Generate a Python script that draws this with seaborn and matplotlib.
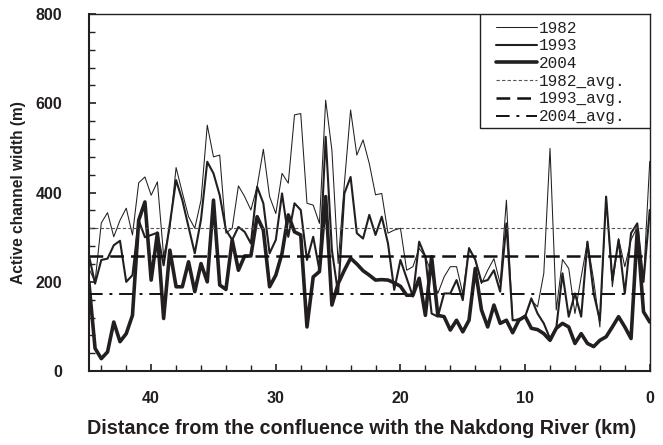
import matplotlib
matplotlib.use("Agg")
import matplotlib.pyplot as plt
from matplotlib.patches import Rectangle
from matplotlib.ticker import MultipleLocator
import seaborn as sns
import pandas as pd

distance_km = [45, 44.5, 44, 43.5, 43, 42.5, 42, 41.5, 41, 40.5, 40, 39.5, 39, 38.5, 38, 37.5,
               37, 36.5, 36, 35.5, 35, 34.5, 34, 33.5, 33, 32.5, 32, 31.5, 31, 30.5, 30,
               29.5, 29, 28.5, 28, 27.5, 27, 26.5, 26, 25.5, 25, 24.5, 24, 23.5, 23, 22.5,
               22, 21.5, 21, 20.5, 20, 19.5, 19, 18.5, 18, 17.5, 17, 16.5, 16, 15.5, 15,
               14.5, 14, 13.5, 13, 12.5, 12, 11.5, 11, 10.5, 10, 9.5, 9, 8.5, 8, 7.5,
               7, 6.5, 6, 5.5, 5, 4.5, 4, 3.5, 3, 2.5, 2, 1.5, 1, 0.5, 0]

width_1982 = [230, 200, 332, 355, 301, 338, 365, 305, 422, 435, 394, 424, 258, 320, 456, 400,
              346, 320, 383, 551, 480, 484, 309, 320, 415, 391, 361, 413, 497, 391, 353,
              443, 421, 574, 577, 376, 372, 331, 607, 495, 241, 420, 585, 484, 518, 465,
              395, 398, 309, 316, 320, 226, 234, 275, 256, 219, 174, 211, 234, 234, 174,
              277, 249, 196, 226, 252, 196, 383, 114, 118, 122, 159, 144, 219, 499, 137,
              250, 230, 129, 211, 290, 204, 99, 391, 189, 297, 234, 294, 323, 204, 470]

width_1993 = [260, 196, 249, 252, 282, 292, 200, 215, 338, 300, 305, 310, 237, 330, 428, 383,
              323, 264, 340, 469, 443, 394, 316, 294, 323, 312, 286, 413, 376, 264, 294,
              398, 301, 376, 361, 249, 301, 226, 525, 271, 174, 398, 435, 309, 297, 350,
              305, 346, 286, 182, 249, 208, 167, 290, 256, 129, 122, 174, 174, 204, 159,
              275, 250, 200, 204, 226, 178, 331, 114, 114, 122, 163, 129, 107, 73, 96,
              219, 122, 174, 122, 290, 174, 114, 391, 204, 294, 174, 309, 331, 200, 361]

width_2004 = [200, 51, 28, 43, 110, 66, 84, 125, 338, 379, 204, 309, 118, 271, 189, 189,
              245, 178, 241, 200, 383, 193, 183, 294, 226, 258, 258, 346, 316, 189, 215,
              264, 350, 312, 305, 99, 211, 223, 391, 148, 196, 226, 253, 240, 225, 215,
              204, 205, 204, 198, 190, 170, 170, 208, 125, 256, 125, 122, 92, 114, 88,
              114, 230, 137, 99, 148, 107, 114, 86, 114, 123, 96, 93, 84, 69, 96,
              107, 99, 62, 84, 62, 55, 69, 77, 99, 122, 99, 73, 316, 133, 110]

avg_1982 = 321
avg_1993 = 258
avg_2004 = 172

series_labels = ["1982", "1993", "2004"]
avg_labels = ["1982_avg.", "1993_avg.", "2004_avg."]

df = pd.DataFrame({
    "km": distance_km * 3,
    "width": width_1982 + width_1993 + width_2004,
    "year": ["1982"] * len(distance_km) + ["1993"] * len(distance_km) + ["2004"] * len(distance_km),
})

sns.set_style("ticks")
plt.rcParams["font.family"] = ["Liberation Sans", "DejaVu Sans"]

fig = plt.figure(figsize=(6.63, 4.45), dpi=100)
ax = fig.add_axes([0.134, 0.166, 0.846, 0.8025])

line_color = "#231f20"
widths = {"1982": 0.75, "1993": 1.5, "2004": 2.6}
for yr in series_labels:
    sns.lineplot(data=df[df["year"] == yr], x="km", y="width", ax=ax,
                 color=line_color, linewidth=widths[yr], label=yr,
                 estimator=None, sort=False)

ax.axhline(avg_1982, color="#555555", linewidth=0.8, linestyle=(0, (3, 2)), label=avg_labels[0])
ax.axhline(avg_1993, color="#111111", linewidth=1.8, linestyle=(0, (5.5, 2.8)), label=avg_labels[1])
ax.axhline(avg_2004, color="#111111", linewidth=1.4, linestyle=(0, (7, 3.5, 1.5, 3.5)), label=avg_labels[2])

ax.set_xlim(45, 0)
ax.set_ylim(0, 800)
ax.xaxis.set_major_locator(MultipleLocator(10))
ax.xaxis.set_minor_locator(MultipleLocator(2))
ax.yaxis.set_major_locator(MultipleLocator(200))
ax.yaxis.set_minor_locator(MultipleLocator(40))

ax.tick_params(axis="both", which="both", direction="in", colors="#231f20",
               top=False, right=False)
ax.tick_params(axis="both", which="major", length=5, width=1.2)
ax.tick_params(axis="both", which="minor", length=4, width=1.0)
ax.tick_params(axis="x", which="major", pad=14.5, labelsize=11.5)
ax.tick_params(axis="y", which="major", pad=19, labelsize=11.5)
for lab in ax.get_xticklabels() + ax.get_yticklabels():
    lab.set_fontweight("bold")
    lab.set_color("#231f20")

for side in ["left", "bottom"]:
    ax.spines[side].set_linewidth(1.5)
    ax.spines[side].set_color("#231f20")
for side in ["top", "right"]:
    ax.spines[side].set_visible(True)
    ax.spines[side].set_linewidth(1.0)
    ax.spines[side].set_color("#231f20")

ax.set_xlabel("Distance from the confluence with the Nakdong River (km)",
              fontsize=14.2, fontweight="bold", color="#231f20", labelpad=10)
ax.xaxis.set_label_coords(0.486, -0.134)
ax.set_ylabel("Active channel width (m)", fontsize=11.2, fontweight="bold",
              color="#231f20", labelpad=7)

# legend: frame drawn as rectangle to match the reference box
leg = ax.legend(loc="upper right", bbox_to_anchor=(0.965, 0.995), frameon=False,
                prop={"family": "Liberation Mono", "size": 11.5},
                handlelength=2.6, handletextpad=0.1, labelspacing=0.17,
                borderpad=0.3, borderaxespad=0)
for txt in leg.get_texts():
    txt.set_color("#231f20")
ax.add_patch(Rectangle((0.697, 0.681), 0.303, 0.319, transform=ax.transAxes,
                       facecolor="white", edgecolor="#231f20", linewidth=1.0,
                       zorder=4))
leg.set_zorder(5)

fig.savefig("out.png", dpi=100)
